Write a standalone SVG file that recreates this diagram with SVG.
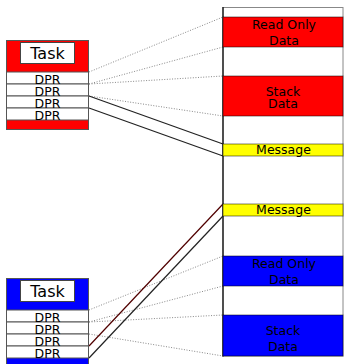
<svg xmlns="http://www.w3.org/2000/svg" width="344" height="364" viewBox="0 0 344 364">
  <style>
    .lbl { font-family: "DejaVu Sans", "Liberation Sans", sans-serif; fill: #000; text-anchor: middle; }
    .dpr { font-size: 12.5px; }
    .task { font-size: 16px; }
    .mem { font-size: 12.5px; }
    .row { fill: #fff; stroke: #555; stroke-width: 1; }
    .band { stroke: #000; stroke-opacity: 0.5; stroke-width: 1; }
    .ref { stroke: #888; stroke-width: 1; stroke-dasharray: 1 1.6; fill: none; }
    .link { stroke: #222; stroke-width: 1.2; fill: none; }
    .link-red { stroke: #500000; }
  </style>

  <!-- connectors: DPR rows to memory regions -->
  <g id="connectors">
    <line class="ref" x1="89" y1="72" x2="223" y2="17"/>
    <line class="ref" x1="89" y1="84" x2="223" y2="47"/>
    <line class="ref" x1="89" y1="84" x2="223" y2="76"/>
    <line class="ref" x1="89" y1="96" x2="223" y2="116"/>
    <line class="link" x1="89" y1="96" x2="223" y2="144"/>
    <line class="link" x1="89" y1="108" x2="223" y2="156"/>

    <line class="ref" x1="89" y1="310" x2="223" y2="256"/>
    <line class="ref" x1="89" y1="322" x2="223" y2="286"/>
    <line class="ref" x1="89" y1="322" x2="223" y2="315"/>
    <line class="ref" x1="89" y1="334" x2="223" y2="356"/>
    <line class="link link-red" x1="89" y1="346" x2="223" y2="204"/>
    <line class="link" x1="89" y1="358" x2="223" y2="216"/>
  </g>

  <!-- memory column -->
  <g id="memory">
    <rect x="223" y="7.5" width="120" height="348.5" fill="#fff" stroke="#888" stroke-width="1"/>
    <line x1="223" y1="7" x2="223" y2="356.5" stroke="#000" stroke-width="1.2"/>
  </g>
  <g id="ro-a">
    <rect class="band" x="223" y="17" width="120" height="30" fill="#ff0000"/>
    <text class="lbl mem" x="284" y="29">Read Only</text>
    <text class="lbl mem" x="284" y="44.5">Data</text>
  </g>
  <g id="stack-a">
    <rect class="band" x="223" y="76" width="120" height="40" fill="#ff0000"/>
    <text class="lbl mem" x="283" y="96">Stack</text>
    <text class="lbl mem" x="283" y="108">Data</text>
  </g>
  <g id="msg-a">
    <rect class="band" x="223" y="144" width="120" height="12" fill="#ffff00"/>
    <text class="lbl mem" x="283.5" y="154">Message</text>
  </g>
  <g id="msg-b">
    <rect class="band" x="223" y="204" width="120" height="12" fill="#ffff00"/>
    <text class="lbl mem" x="283.5" y="214">Message</text>
  </g>
  <g id="ro-b">
    <rect class="band" x="223" y="256" width="120" height="30" fill="#0000ff"/>
    <text class="lbl mem" x="284" y="268">Read Only</text>
    <text class="lbl mem" x="284" y="283.5">Data</text>
  </g>
  <g id="stack-b">
    <rect class="band" x="223" y="315" width="120" height="41" fill="#0000ff"/>
    <text class="lbl mem" x="283" y="335">Stack</text>
    <text class="lbl mem" x="283" y="351">Data</text>
  </g>

  <!-- first task -->
  <g id="task-a">
    <rect x="6.5" y="40.5" width="82" height="89" fill="#ff0000" stroke="#555" stroke-width="1"/>
    <rect x="20.5" y="42.5" width="54" height="21" fill="#fff" stroke="#444" stroke-width="1"/>
    <text class="lbl task" x="47.5" y="59">Task</text>
    <rect class="row" x="6.5" y="72" width="82" height="12"/>
    <rect class="row" x="6.5" y="84" width="82" height="12"/>
    <rect class="row" x="6.5" y="96" width="82" height="12"/>
    <rect class="row" x="6.5" y="108" width="82" height="12"/>
    <text class="lbl dpr" x="47.5" y="83.5">DPR</text>
    <text class="lbl dpr" x="47.5" y="95.5">DPR</text>
    <text class="lbl dpr" x="47.5" y="107.5">DPR</text>
    <text class="lbl dpr" x="47.5" y="119.5">DPR</text>
  </g>

  <!-- second task -->
  <g id="task-b">
    <rect x="6.5" y="278.5" width="82" height="90" fill="#0000ff" stroke="#555" stroke-width="1"/>
    <rect x="20.5" y="280.5" width="54" height="21" fill="#fff" stroke="#444" stroke-width="1"/>
    <text class="lbl task" x="47.5" y="297">Task</text>
    <rect class="row" x="6.5" y="310" width="82" height="12"/>
    <rect class="row" x="6.5" y="322" width="82" height="12"/>
    <rect class="row" x="6.5" y="334" width="82" height="12"/>
    <rect class="row" x="6.5" y="346" width="82" height="12"/>
    <text class="lbl dpr" x="47.5" y="321.5">DPR</text>
    <text class="lbl dpr" x="47.5" y="333.5">DPR</text>
    <text class="lbl dpr" x="47.5" y="345.5">DPR</text>
    <text class="lbl dpr" x="47.5" y="357.5">DPR</text>
  </g>
</svg>
